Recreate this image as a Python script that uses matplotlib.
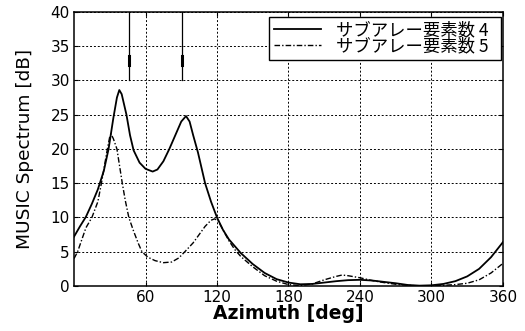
import matplotlib.pyplot as plt

# --- データ ---
deg_4 = [0, 5, 10, 15, 20, 25, 29, 33, 36, 38, 40, 44, 47, 50, 55, 60, 66, 70, 75,
         80, 85, 90, 94, 97, 100, 104, 110, 115, 120, 125, 130, 135, 140, 150, 160,
         170, 180, 190, 200, 210, 220, 230, 240, 250, 260, 270, 280, 290, 300, 310,
         320, 330, 340, 350, 360]
music_4 = [7.2, 8.7, 10.1, 12.0, 14.1, 16.8, 20.0, 24.5, 27.5, 28.6, 28.0, 25.0, 22.0,
           19.8, 18.0, 17.1, 16.7, 17.0, 18.2, 20.0, 22.0, 24.0, 24.8, 24.0, 22.0,
           19.5, 15.0, 12.3, 10.0, 8.2, 6.8, 5.8, 4.8, 3.2, 1.9, 1.0, 0.5, 0.25, 0.3,
           0.5, 0.7, 0.85, 0.9, 0.8, 0.6, 0.4, 0.15, 0.05, 0.1, 0.3, 0.7, 1.4, 2.5,
           4.2, 6.4]

deg_5 = [0, 3, 5, 10, 15, 20, 23, 26, 28, 30, 31, 33, 36, 40.5, 43, 46, 50, 54, 57,
         62, 68, 75, 82, 88, 93, 100, 105, 110, 115, 118, 121, 125, 130, 135, 140,
         150, 160, 170, 180, 190, 200, 210, 220, 225, 230, 240, 250, 260, 270, 280,
         290, 300, 310, 320, 330, 340, 350, 360]
music_5 = [4.0, 5.0, 6.0, 8.5, 10.0, 12.3, 15.0, 18.0, 20.0, 21.8, 22.2, 21.5, 20.0,
           15.0, 12.5, 10.0, 8.0, 6.2, 5.0, 4.2, 3.7, 3.4, 3.5, 4.1, 5.0, 6.3, 7.5,
           8.7, 9.6, 9.8, 9.5, 8.2, 6.6, 5.3, 4.3, 2.8, 1.5, 0.7, 0.2, 0.05, 0.3, 0.9,
           1.4, 1.6, 1.5, 1.2, 0.8, 0.5, 0.25, 0.1, 0.0, 0.05, 0.1, 0.2, 0.4, 0.9,
           1.9, 3.3]

arrow_deg = [46, 91]          # 到来方向の矢印
labels = ['サブアレー要素数 4  ', 'サブアレー要素数 5  ']

plt.rcParams['font.family'] = ['DejaVu Sans', 'Noto Sans CJK JP']

fig = plt.figure(figsize=(5.25, 3.31), dpi=100)
ax = fig.add_axes([0.141, 0.136, 0.817, 0.828])

ax.plot(deg_4, music_4, color='black', lw=1.3, label=labels[0])
ax.plot(deg_5, music_5, color='black', lw=1.0, linestyle=(0, (4, 1.5, 1, 1.5)),
        label=labels[1])

# 矢印 (40dB -> 30dB)
for d in arrow_deg:
    ax.plot([d, d], [40, 30], color='black', lw=0.9)
    ax.plot([d, d], [32.2, 33.6], color='black', lw=2.2)

ax.set_xlim(0, 360)
ax.set_ylim(0, 40)
ax.set_xticks([60, 120, 180, 240, 300, 360])
ax.set_yticks(range(0, 41, 5))
ax.tick_params(direction='in', right=True, top=True, labelsize=11, length=3, pad=3)
ax.grid(True, color='black', linestyle=(0, (2, 2)), lw=0.7)
for s in ax.spines.values():
    s.set_linewidth(1.1)

ax.set_xlabel('Azimuth [deg]', fontsize=13.5, fontweight='bold', labelpad=-1)
ax.set_ylabel('MUSIC Spectrum [dB]', fontsize=13.3, labelpad=12)

leg = ax.legend(loc='upper right', bbox_to_anchor=(0.995, 0.982), borderaxespad=0,
                fancybox=False, framealpha=1, edgecolor='black',
                handlelength=2.7, handletextpad=0.9, labelspacing=-0.1,
                borderpad=0.25,
                prop={'family': ['Noto Sans CJK JP', 'DejaVu Sans'], 'size': 12.5})
leg.get_frame().set_linewidth(1.0)

plt.savefig('out.png', dpi=100)
